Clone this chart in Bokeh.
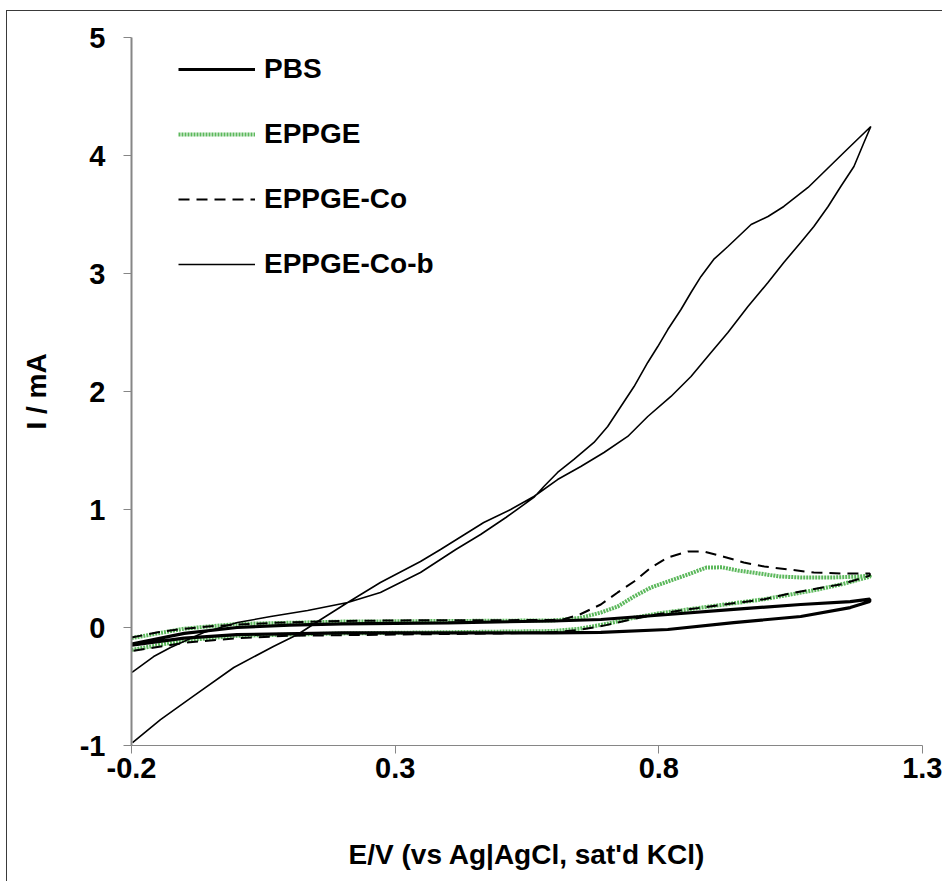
from bokeh.plotting import figure
from bokeh.models import Legend, LegendItem, FixedTicker, Range1d
from bokeh.embed import file_html
from bokeh.resources import INLINE

# ---- data (E in V, I in mA) ----
x_ticks = [-0.2, 0.3, 0.8, 1.3]
x_tick_labels = ["-0.2", "0.3", "0.8", "1.3"]
y_ticks = [-1, 0, 1, 2, 3, 4, 5]
y_tick_labels = ["-1", "0", "1", "2", "3", "4", "5"]

pbs_fwd_E = [-0.2, -0.1, 0.0, 0.1, 0.2, 0.4, 0.6, 0.69, 0.817, 0.942, 1.069, 1.163, 1.2]
pbs_fwd_I = [-0.14, -0.05, 0.0, 0.02, 0.03, 0.04, 0.055, 0.068, 0.11, 0.153, 0.195, 0.22, 0.24]
pbs_rev_E = [1.2, 1.163, 1.069, 0.942, 0.817, 0.69, 0.6, 0.4, 0.2, 0.0, -0.1, -0.2]
pbs_rev_I = [0.22, 0.169, 0.093, 0.042, -0.017, -0.042, -0.045, -0.045, -0.045, -0.06, -0.09, -0.15]

eppge_fwd_E = [-0.2, -0.1, 0.0, 0.2, 0.4, 0.6, 0.65, 0.69, 0.722, 0.753, 0.785, 0.817, 0.855, 0.89, 0.92,
               0.95, 0.99, 1.03, 1.07, 1.13, 1.18, 1.2]
eppge_fwd_I = [-0.09, -0.01, 0.03, 0.05, 0.055, 0.06, 0.08, 0.127, 0.178, 0.263, 0.339, 0.39, 0.449, 0.508, 0.51,
               0.483, 0.458, 0.432, 0.424, 0.424, 0.432, 0.44]
eppge_rev_E = [1.2, 1.15, 1.1, 1.0, 0.9, 0.8, 0.75, 0.7, 0.65, 0.6, 0.4, 0.2, 0.0, -0.1, -0.2]
eppge_rev_I = [0.43, 0.37, 0.32, 0.24, 0.18, 0.12, 0.08, 0.03, -0.01, -0.03, -0.04, -0.05, -0.07, -0.11, -0.19]

co_fwd_E = [-0.2, -0.15, -0.1, -0.05, 0.0, 0.1, 0.2, 0.3, 0.4, 0.5, 0.6, 0.62, 0.65, 0.69, 0.722, 0.753,
            0.785, 0.817, 0.855, 0.885, 0.923, 0.961, 1.0, 1.045, 1.094, 1.145, 1.2]
co_fwd_I = [-0.085, -0.04, -0.01, 0.01, 0.025, 0.045, 0.055, 0.06, 0.062, 0.062, 0.065, 0.07, 0.11, 0.195,
            0.297, 0.39, 0.508, 0.593, 0.644, 0.645, 0.6, 0.551, 0.517, 0.492, 0.466, 0.458, 0.458]
co_rev_E = [1.2, 1.15, 1.1, 1.05, 1.0, 0.95, 0.9, 0.85, 0.8, 0.75, 0.7, 0.65, 0.6, 0.5, 0.4, 0.3, 0.2, 0.1,
            0.0, -0.1, -0.2]
co_rev_I = [0.44, 0.37, 0.33, 0.29, 0.24, 0.21, 0.18, 0.15, 0.115, 0.07, 0.02, -0.02, -0.04, -0.05, -0.055,
            -0.06, -0.065, -0.07, -0.09, -0.13, -0.2]

cob_fwd_E = [-0.199, -0.158, -0.126, -0.063, 0.001, 0.064, 0.134, 0.210, 0.272, 0.348, 0.415, 0.462, 0.510,
             0.563, 0.582, 0.608, 0.639, 0.677, 0.703, 0.728, 0.753, 0.779, 0.798, 0.817, 0.842, 0.861, 0.880,
             0.904, 0.931, 0.975, 1.007, 1.037, 1.083, 1.151, 1.202]
cob_fwd_I = [-0.381, -0.246, -0.169, -0.042, 0.042, 0.093, 0.144, 0.212, 0.297, 0.466, 0.661, 0.788, 0.932,
             1.102, 1.195, 1.314, 1.424, 1.568, 1.703, 1.873, 2.042, 2.246, 2.381, 2.525, 2.695, 2.839, 2.975,
             3.119, 3.229, 3.415, 3.483, 3.568, 3.729, 4.025, 4.246]
cob_rev_E = [1.202, 1.189, 1.170, 1.145, 1.121, 1.094, 1.069, 1.037, 1.007, 0.969, 0.931, 0.899, 0.861, 0.823,
             0.779, 0.741, 0.696, 0.652, 0.608, 0.563, 0.519, 0.468, 0.386, 0.348, 0.272, 0.210, 0.159, 0.115,
             0.069, -0.006, -0.084, -0.145, -0.198]
cob_rev_I = [4.246, 4.110, 3.907, 3.737, 3.568, 3.398, 3.263, 3.093, 2.924, 2.720, 2.5, 2.331, 2.127, 1.958,
             1.788, 1.619, 1.483, 1.364, 1.254, 1.110, 1.0, 0.890, 0.661, 0.559, 0.381, 0.212, 0.068, -0.059,
             -0.161, -0.339, -0.585, -0.780, -0.975]

FONT = "Liberation Sans"
AXIS_COLOR = "#868686"

p = figure(width=936, height=871, x_range=Range1d(-0.2, 1.3), y_range=Range1d(-1, 5),
           output_backend="svg", toolbar_location=None,
           min_border_left=124, min_border_top=26, min_border_right=21, min_border_bottom=137)
p.margin = (10, 0, 0, 6)
p.styles = {"border-top": "1px solid #3a3a3a", "border-left": "1px solid #3a3a3a"}
p.outline_line_color = None
p.grid.visible = False
p.background_fill_color = "white"
p.border_fill_color = "white"

r_eppge = p.line(eppge_fwd_E + eppge_rev_E, eppge_fwd_I + eppge_rev_I,
                 line_color="#5cb85c", line_width=4, line_dash="2 1")
r_co = p.line(co_fwd_E + co_rev_E, co_fwd_I + co_rev_I,
              line_color="black", line_width=2, line_dash="11 7")
r_pbs = p.line(pbs_fwd_E + pbs_rev_E, pbs_fwd_I + pbs_rev_I,
               line_color="black", line_width=3.2)
r_cob = p.line(cob_fwd_E + cob_rev_E, cob_fwd_I + cob_rev_I,
               line_color="black", line_width=1.6)

for ax in (p.xaxis[0], p.yaxis[0]):
    ax.axis_line_color = AXIS_COLOR
    ax.major_tick_line_color = AXIS_COLOR
    ax.major_tick_out = 8
    ax.major_tick_in = 0
    ax.minor_tick_line_color = None
    ax.major_label_text_font = FONT
    ax.major_label_text_font_style = "bold"
    ax.major_label_text_font_size = "29px"
    ax.major_label_text_color = "black"
    ax.axis_label_text_font = FONT
    ax.axis_label_text_font_style = "bold"
    ax.axis_label_text_font_size = "28px"
    ax.axis_label_text_color = "black"

p.xaxis.ticker = FixedTicker(ticks=x_ticks)
p.xaxis.major_label_overrides = {t: l for t, l in zip(x_ticks, x_tick_labels)}
p.yaxis.ticker = FixedTicker(ticks=y_ticks)
p.yaxis.major_label_overrides = {t: l for t, l in zip(y_ticks, y_tick_labels)}
p.yaxis.axis_line_width = 2
p.xaxis.axis_line_width = 1
p.xaxis.major_label_standoff = 4
p.yaxis.major_label_standoff = 18
p.xaxis.axis_label = "E/V (vs Ag|AgCl, sat'd KCl)"
p.yaxis.axis_label = "I / mA"
p.xaxis.axis_label_standoff = 58
p.yaxis.axis_label_standoff = 25

legend = Legend(items=[LegendItem(label="PBS", renderers=[r_pbs]),
                       LegendItem(label="EPPGE", renderers=[r_eppge]),
                       LegendItem(label="EPPGE-Co", renderers=[r_co]),
                       LegendItem(label="EPPGE-Co-b", renderers=[r_cob])],
                location=(47, 461), padding=0, margin=0, spacing=25,
                glyph_width=77, glyph_height=40, label_height=40, label_standoff=9,
                border_line_alpha=0, background_fill_alpha=0,
                label_text_font=FONT, label_text_font_style="bold",
                label_text_font_size="28px", label_text_color="black")
p.add_layout(legend, "center")

open("out.html", "w").write(file_html(p, INLINE))
